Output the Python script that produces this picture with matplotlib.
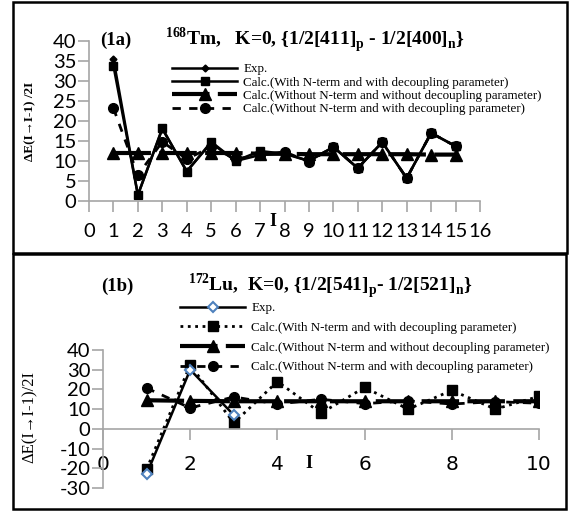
import numpy as np
import matplotlib
matplotlib.use("Agg")
import matplotlib.pyplot as plt
from matplotlib.patches import Rectangle

W, H = 571, 511

# Panel (1a): 168Tm
I_a = list(range(1, 16))
exp_a = [35.5, 1.5, 18.0, 7.5, 14.5, 10.0, 11.5, 12.0, 10.0, 13.5, 8.2, 14.7, 5.7, 17.0, 13.7]
calc_n_a = [33.8, 1.5, 18.2, 7.3, 14.8, 10.0, 12.5, 11.8, 10.0, 13.5, 8.2, 14.7, 5.7, 17.0, 13.7]
calc_nn_a = [12.0, 12.0, 12.0, 12.0, 12.0, 12.0, 11.8, 11.8, 11.7, 11.7, 11.7, 11.7, 11.7, 11.6, 11.6]
calc_nd_a = [23.2, 6.5, 14.8, 10.5, 13.5, 10.5, 11.5, 12.3, 9.8, 13.6, 8.2, 14.7, 5.7, 17.0, 13.7]

# Panel (1b): 172Lu
I_b = list(range(1, 11))
I_b_exp = [1, 2, 3]
exp_b = [-23.0, 30.0, 7.0]
calc_n_b = [-20.5, 32.4, 3.0, 24.0, 8.0, 21.0, 10.0, 19.5, 10.0, 16.5]
calc_nn_b = [14.5, 14.2, 14.0, 14.0, 14.0, 14.0, 14.0, 14.0, 14.0, 14.0]
calc_nd_b = [20.7, 10.6, 16.2, 12.6, 15.0, 12.8, 14.2, 12.6, 13.8, 13.0]

labels = ["Exp.",
          "Calc.(With N-term and with decoupling parameter)",
          "Calc.(Without N-term and without decoupling parameter)",
          "Calc.(Without N-term and with decoupling parameter)"]

SERIF = "Liberation Serif"
SANS = "Lato"
GRAY = "#a6a6a6"

plt.rcParams["mathtext.fontset"] = "custom"
plt.rcParams["mathtext.rm"] = "Liberation Serif:bold"
plt.rcParams["mathtext.bf"] = "Liberation Serif:bold"
plt.rcParams["axes.unicode_minus"] = False


def px_axes(fig, x0, y0, x1, y1):
    # pixel box (top-left origin) -> figure axes
    return fig.add_axes([x0 / W, 1 - y1 / H, (x1 - x0) / W, (y1 - y0) / H])


def style_axes(ax):
    for s in ["top", "right"]:
        ax.spines[s].set_visible(False)
    for s in ["left", "bottom"]:
        ax.spines[s].set_color(GRAY)
        ax.spines[s].set_linewidth(1.2)
    ax.tick_params(colors=GRAY, length=8, width=1.2, labelcolor="black", labelsize=14.5)
    for t in ax.get_xticklabels() + ax.get_yticklabels():
        t.set_fontfamily(SANS)
    ax.set_facecolor("none")


fig = plt.figure(figsize=(W / 100, H / 100), dpi=100)

# panel borders
fig.patches.append(Rectangle((13 / W, 1 - 253 / H), (567 - 13) / W, (253 - 2) / H,
                             transform=fig.transFigure, fill=False, lw=1.8, ec="black"))
fig.patches.append(Rectangle((13 / W, 1 - 509 / H), (566 - 13) / W, (509 - 254) / H,
                             transform=fig.transFigure, fill=False, lw=1.8, ec="black"))

# ---------- (1a) ----------
ax = px_axes(fig, 89, 41, 480, 201)
ax.set_xlim(0, 16)
ax.set_ylim(0, 40)
ax.set_xticks(range(0, 17))
ax.set_yticks(range(0, 41, 5))
style_axes(ax)
ax.tick_params(axis="x", pad=8)
ax.tick_params(axis="y", pad=1)

h1, = ax.plot(I_a, exp_a, "k-", lw=1.8, marker="D", ms=3.5)
h2, = ax.plot(I_a, calc_n_a, "k-", lw=1.8, marker="s", ms=6)
h3, = ax.plot(I_a, calc_nn_a, "k-", lw=3, marker="^", ms=8, dashes=(9, 2))
h4, = ax.plot(I_a, calc_nd_a, "k--", lw=2, marker="o", ms=7, dashes=(3, 3))

ax.legend([h1, h2, h3, h4], labels, loc="upper left",
          bbox_to_anchor=(172 / W, 1 - 63 / H), bbox_transform=fig.transFigure,
          frameon=False, handlelength=5.0, handletextpad=0.45, labelspacing=0.1,
          borderaxespad=0, borderpad=0, prop={"family": SERIF, "size": 9.4})

fig.text(30 / W, 1 - 121 / H, "ΔE(I→I-1) /2I", fontfamily=SERIF, fontweight="bold",
         fontsize=9.5, rotation=90, ha="center", va="center")
fig.text(273 / W, 1 - 221 / H, "I", fontfamily=SERIF, fontweight="bold", fontsize=13,
         ha="center", va="center")
fig.text(100 / W, 1 - 40 / H, "(1a)", fontfamily=SERIF, fontweight="bold", fontsize=13.5,
         ha="left", va="center")
fig.text(165 / W, 1 - 40 / H,
         r"$^{\mathbf{168}}$Tm,   K=0, {1/2[411]$_{\mathbf{p}}$ - 1/2[400]$_{\mathbf{n}}$}",
         fontfamily=SERIF, fontweight="bold", fontsize=14, ha="left", va="center")

# ---------- (1b) ----------
bx = px_axes(fig, 103, 350, 539, 488)
bx.set_xlim(0, 10)
bx.set_ylim(-30, 40)
bx.set_xticks(range(0, 11, 2))
bx.set_yticks(range(-30, 41, 10))
style_axes(bx)
bx.spines["bottom"].set_position(("data", 0))
bx.tick_params(axis="x", pad=11)
bx.tick_params(axis="y", pad=1)

g3, = bx.plot(I_b, calc_nn_b, "k-", lw=3, marker="^", ms=8, dashes=(9, 2))
g4, = bx.plot(I_b, calc_nd_b, "k--", lw=2, marker="o", ms=7, dashes=(3, 3))
g2, = bx.plot(I_b, calc_n_b, "k:", lw=2, marker="s", ms=7)
g1, = bx.plot(I_b_exp, exp_b, "k-", lw=1.8, marker="D", ms=5.5, mfc="white",
              mec="#4f81bd", mew=1.5)

bx.legend([g1, g2, g3, g4], labels, loc="upper left",
          bbox_to_anchor=(180 / W, 1 - 302 / H), bbox_transform=fig.transFigure,
          frameon=False, handlelength=5.0, handletextpad=0.45, labelspacing=0.58,
          borderaxespad=0, borderpad=0, prop={"family": SERIF, "size": 9.4})

fig.text(30 / W, 1 - 417 / H, "ΔE(I→I-1)/2I", fontfamily=SERIF, fontsize=12,
         rotation=90, ha="center", va="center")
fig.text(309 / W, 1 - 463 / H, "I", fontfamily=SERIF, fontweight="bold", fontsize=13,
         ha="center", va="center")
fig.text(101 / W, 1 - 286 / H, "(1b)", fontfamily=SERIF, fontweight="bold", fontsize=13.5,
         ha="left", va="center")
fig.text(188 / W, 1 - 286 / H,
         r"$^{\mathbf{172}}$Lu,  K=0, {1/2[541]$_{\mathbf{p}}$- 1/2[521]$_{\mathbf{n}}$}",
         fontfamily=SERIF, fontweight="bold", fontsize=14, ha="left", va="center")

fig.savefig("out.png", dpi=100)
